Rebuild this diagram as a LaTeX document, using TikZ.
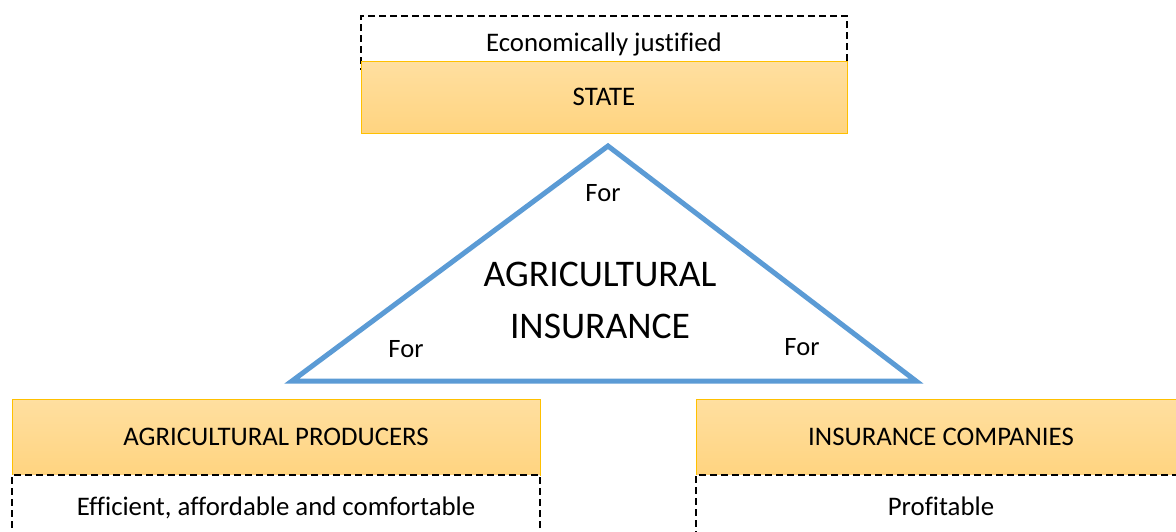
\documentclass[tikz,border=0pt]{standalone}
\usepackage{fontspec}
\setmainfont[Ligatures=NoCommon]{Carlito}
\definecolor{boxline}{HTML}{FFC000}
\definecolor{boxtop}{HTML}{FFDFA0}
\definecolor{boxbot}{HTML}{FFD480}
\definecolor{triline}{HTML}{5B9BD5}
\begin{document}
\begin{tikzpicture}[x=1pt,y=-1pt,
  actor/.style={rectangle, draw=boxline, line width=1pt, top color=boxtop, bottom color=boxbot, inner sep=0pt, minimum height=76, text height=17.3pt, text depth=0pt, font=\fontsize{26.8}{32}\selectfont},
  aim/.style={rectangle, draw, line width=1.3pt, dash pattern=on 7pt off 4pt, fill=white, inner sep=0pt, text height=17.3pt, text depth=0pt, font=\fontsize{26.8}{32}\selectfont},
  forlab/.style={inner sep=0pt, text height=17.3pt, text depth=0pt, font=\fontsize{26.5}{32}\selectfont}]
\clip (0,0) rectangle (1176,531);
\fill[white] (0,0) rectangle (1176,531);
% state on top
\node[aim, minimum width=486, minimum height=54] (stateaim) at (604,43) {Economically justified};
\node[actor, minimum width=486, minimum height=72] (state) at (604,97) {STATE};
% triangle
\coordinate (apex) at (608,146);
\coordinate (lcorner) at (292,381);
\coordinate (rcorner) at (916,381);
\draw[triline, line width=5pt] (apex) -- (lcorner) -- (rcorner) -- cycle;
\node[align=center, inner sep=0pt, font=\fontsize{37.6}{52}\selectfont] (insurance) at (600,300) {AGRICULTURAL\\INSURANCE};
\node[forlab] (fortop) at (603,193) {For};
\node[forlab] (forleft) at (406,349) {For};
\node[forlab] (forright) at (802,347) {For};
% producers
\node[actor, minimum width=528] (producers) at (276,437) {AGRICULTURAL PRODUCERS};
\node[aim, minimum width=528, minimum height=64] (prodaim) at (276,507) {Efficient, affordable and comfortable};
% companies
\node[actor, minimum width=490] (companies) at (941,437) {INSURANCE COMPANIES};
\node[aim, minimum width=490, minimum height=64] (compaim) at (941,507) {Profitable};
\end{tikzpicture}
\end{document}
